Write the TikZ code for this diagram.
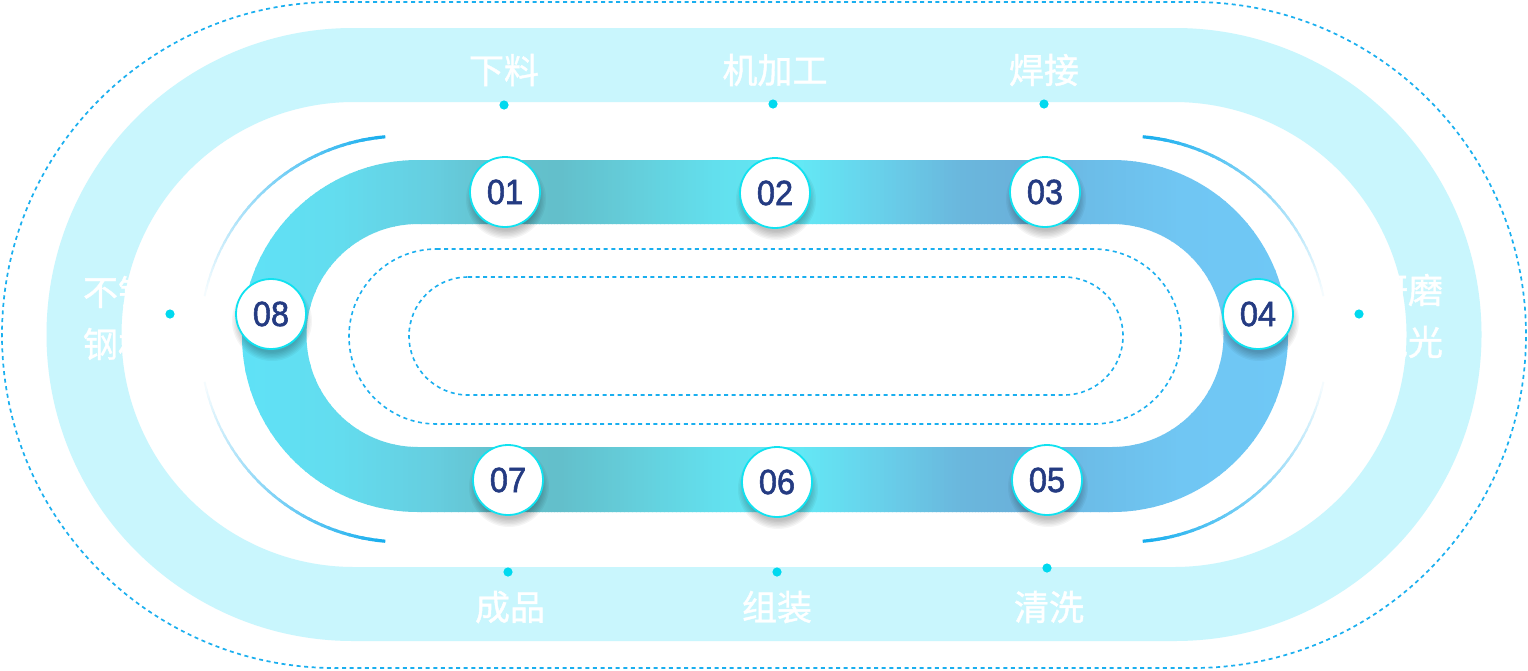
\documentclass[tikz,border=0pt]{standalone}
\usepackage{fontspec}
\setmainfont{Liberation Sans}
\newfontfamily\cjk[FakeBold=1.2]{Noto Sans CJK SC}
\newfontfamily\numfont[FakeBold=1.6,FakeStretch=0.93]{Liberation Sans}
\definecolor{bandc}{HTML}{C9F6FD}
\definecolor{dashc}{HTML}{1AAFEF}
\definecolor{arcc}{HTML}{18AEEE}
\definecolor{dotc}{HTML}{00D9EF}
\definecolor{ringc}{HTML}{10E2F0}
\definecolor{navy}{HTML}{243B82}
\definecolor{s0}{HTML}{5FE2F7}
\definecolor{s1}{HTML}{63DCEE}
\definecolor{s2}{HTML}{66CEE0}
\definecolor{s3}{HTML}{64C1CD}
\definecolor{s4}{HTML}{63BFCB}
\definecolor{s5}{HTML}{64CFDC}
\definecolor{s6}{HTML}{62E0EE}
\definecolor{s7}{HTML}{63E8F5}
\definecolor{s8}{HTML}{68D0EA}
\definecolor{s9}{HTML}{6AB7DD}
\definecolor{s10}{HTML}{6AB1DA}
\definecolor{s11}{HTML}{6CBDE8}
\definecolor{s12}{HTML}{70C6F3}
\definecolor{s13}{HTML}{6FC8F5}
\newcommand\stadpath[4]{(#1,#3-#4) -- (#2,#3-#4) arc[start angle=-90,end angle=90,radius=#4] -- (#1,#3+#4) arc[start angle=90,end angle=270,radius=#4] -- cycle}
\newcommand\gseg[4]{%
  \foreach \i in {0,...,19}{%
    \pgfmathsetmacro\xa{#1+(#2-#1)*\i/20}%
    \pgfmathsetmacro\xb{#1+(#2-#1)*(\i+1)/20+0.8}%
    \pgfmathtruncatemacro\pp{100-\i*5-2}%
    \fill[#3!\pp!#4] (\xa,150) rectangle (\xb,520);
  }}
\newcommand\farc[4]{%
  \foreach \i in {0,...,35}{%
    \pgfmathsetmacro\aa{#3+(#4-#3)*\i/36}%
    \pgfmathsetmacro\ab{#3+(#4-#3)*(\i+1.4)/36}%
    \pgfmathtruncatemacro\pp{100-\i*2.7}%
    \pgfmathsetmacro\lw{3.2-1.4*\i/36}%
    \draw[arcc!\pp!white, line width=\lw pt] ([shift={(\aa:203)}]#1,#2) arc[start angle=\aa,end angle=\ab,radius=203];
  }}
\newcommand\cshadow[2]{%
  \foreach \k in {0,...,6}{%
    \fill[black,opacity=0.04] (#1+1,#2+7) circle ({40-\k*1.4});
  }}
\begin{document}
\begin{tikzpicture}[x=1pt,y=-1pt,
  numc/.style={circle, minimum size=70pt, inner sep=0pt, fill=white, draw=ringc, line width=1.8pt, text=navy, font=\numfont\fontsize{35}{35}\selectfont},
  lab/.style={text=white, font=\cjk\fontsize{35}{52}\selectfont, align=center, inner sep=0pt},
  dotline/.style={draw=dashc, line width=1.7pt, dash pattern=on 4pt off 3.6pt}
]
\useasboundingbox (0,0) rectangle (1528,670);
\fill[white] (0,0) rectangle (1528,670);
% outer dotted stadium
\draw[dotline] \stadpath{335}{1193}{335}{333};
% light band ring
\fill[bandc, even odd rule] \stadpath{353}{1175}{334.5}{306.5} \stadpath{354}{1174}{334.5}{232.5};
% thin fading arcs
\farc{403}{339}{265}{193}
\farc{403}{339}{95}{167}
\farc{1125}{339}{275}{347}
\farc{1125}{339}{85}{13}
% gradient track
\begin{scope}[even odd rule]
\clip \stadpath{418}{1112}{336}{176} \stadpath{418}{1112}{335.5}{111.5};
\gseg{240}{340}{s0}{s1}
\gseg{340}{430}{s1}{s2}
\gseg{430}{500}{s2}{s3}
\gseg{500}{560}{s3}{s4}
\gseg{560}{640}{s4}{s5}
\gseg{640}{720}{s5}{s6}
\gseg{720}{800}{s6}{s7}
\gseg{800}{880}{s7}{s8}
\gseg{880}{960}{s8}{s9}
\gseg{960}{1020}{s9}{s10}
\gseg{1020}{1090}{s10}{s11}
\gseg{1090}{1180}{s11}{s12}
\gseg{1180}{1292}{s12}{s13}
\end{scope}
% inner dashed stadiums
\draw[dotline, line width=1.6pt] \stadpath{436.5}{1093.5}{336.5}{87.5};
\draw[dotline, line width=1.6pt] \stadpath{468}{1064}{336}{59};
% shadows
\cshadow{505}{192}
\cshadow{775}{193}
\cshadow{1045}{192}
\cshadow{1258}{314}
\cshadow{1047}{480}
\cshadow{777}{482}
\cshadow{508}{480}
\cshadow{271}{314}
% step circles
\node[numc] (c1) at (505,192) {01};
\node[numc] (c2) at (775,193) {02};
\node[numc] (c3) at (1045,192) {03};
\node[numc] (c4) at (1258,314) {04};
\node[numc] (c5) at (1047,480) {05};
\node[numc] (c6) at (777,482) {06};
\node[numc] (c7) at (508,480) {07};
\node[numc] (c8) at (271,314) {08};
% labels
\node[lab] (t1) at (504,70) {下料};
\node[lab] (t2) at (775,70) {机加工};
\node[lab] (t3) at (1044,70) {焊接};
\node[lab] (t4) at (1408,316) {研磨\\抛光};
\node[lab] (t5) at (1049,607) {清洗};
\node[lab] (t6) at (777,607) {组装};
\node[lab] (t7) at (510,607) {成品};
\node[lab] (t8) at (118,318) {不锈\\钢材};
% dots
\foreach \p in {(504,105),(773,104),(1044,104),(1359,314),(1047,568),(777,572),(508,572),(170,314)}
  \fill[dotc] \p circle (4.6);
\end{tikzpicture}
\end{document}
